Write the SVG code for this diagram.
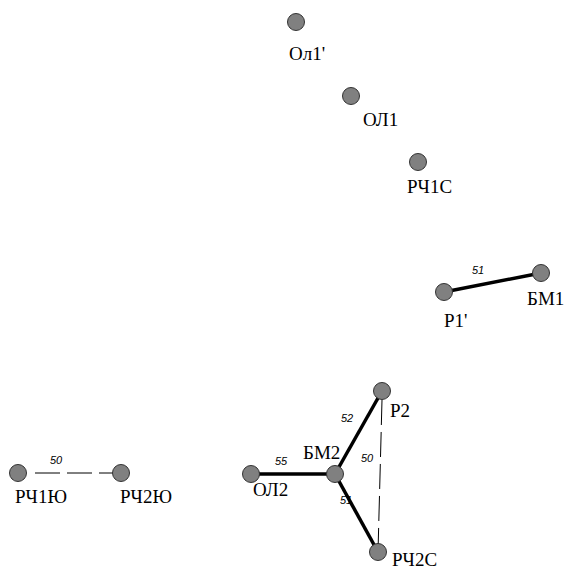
<svg xmlns="http://www.w3.org/2000/svg" width="571" height="570" viewBox="0 0 571 570">
<style>
.n{fill:#808080;stroke:#333;stroke-width:1}
.s{stroke:#000;stroke-width:3.5;fill:none}
.d{stroke:#000;stroke-width:1;fill:none;stroke-dasharray:25 7}
</style>
<rect width="571" height="570" fill="#fff"/>
<g id="connectors" font-family="'Liberation Sans', Arial, sans-serif" font-size="11" font-style="italic" fill="#000">
<line class="s" x1="444" y1="292" x2="541" y2="273"/>
<line class="s" x1="335" y1="474" x2="382" y2="391"/>
<line class="s" x1="251" y1="474" x2="335" y2="474"/>
<line class="s" x1="335" y1="474" x2="378" y2="552"/>
<line class="d" x1="382" y1="400" x2="378" y2="552"/>
<line class="d" x1="35" y1="473" x2="121" y2="473"/>
<text x="472" y="274">51</text>
<text x="341" y="422">52</text>
<text x="361" y="462">50</text>
<text x="275" y="465">55</text>
<text x="340" y="504">51</text>
<text x="50" y="464">50</text>
</g>
<g font-family="'Liberation Serif', 'Times New Roman', serif" font-size="19" fill="#000">
<g id="n-ol1p"><circle class="n" cx="296" cy="22" r="8.5"/><text x="289" y="60">Ол1'</text></g>
<g id="n-ol1"><circle class="n" cx="351" cy="96" r="8.5"/><text x="363" y="126">ОЛ1</text></g>
<g id="n-rch1c"><circle class="n" cx="418" cy="162" r="8.5"/><text x="407" y="193">РЧ1С</text></g>
<g id="n-p1p"><circle class="n" cx="444" cy="292" r="8.5"/><text x="444" y="327">Р1'</text></g>
<g id="n-bm1"><circle class="n" cx="541" cy="273" r="8.5"/><text x="527" y="305">БМ1</text></g>
<g id="n-p2"><circle class="n" cx="382" cy="391" r="8.5"/><text x="390" y="417">Р2</text></g>
<g id="n-bm2"><circle class="n" cx="335" cy="474" r="8.5"/><text x="303" y="459">БМ2</text></g>
<g id="n-ol2"><circle class="n" cx="251" cy="474" r="8.5"/><text x="253" y="496">ОЛ2</text></g>
<g id="n-rch2c"><circle class="n" cx="378" cy="552" r="8.5"/><text x="392" y="566">РЧ2С</text></g>
<g id="n-rch1yu"><circle class="n" cx="18" cy="473" r="8.5"/><text x="15" y="503">РЧ1Ю</text></g>
<g id="n-rch2yu"><circle class="n" cx="121" cy="473" r="8.5"/><text x="120" y="503">РЧ2Ю</text></g>
</g>
</svg>
